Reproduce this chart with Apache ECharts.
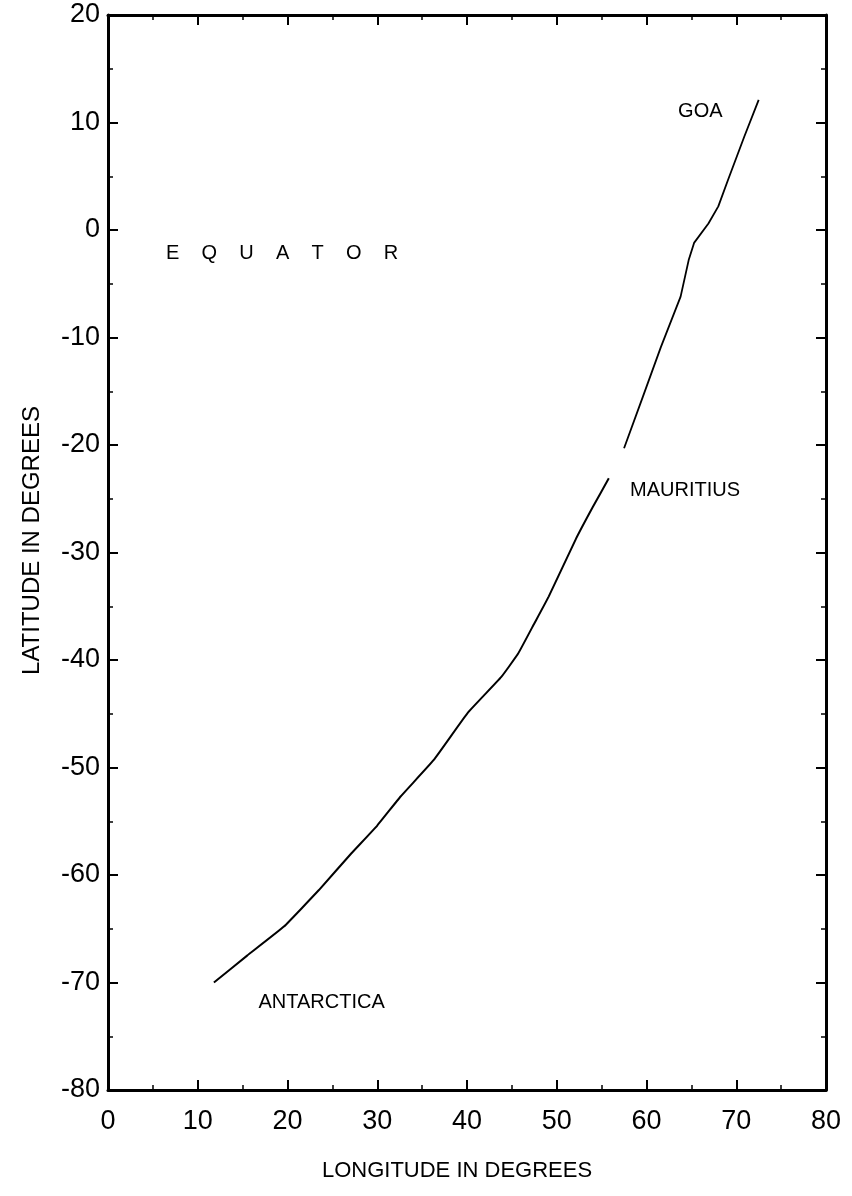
<!DOCTYPE html>
<html>
<head>
<meta charset="utf-8">
<script src="https://cdn.jsdelivr.net/npm/echarts@6/dist/echarts.min.js"></script>
<style>
html,body{margin:0;padding:0;background:#fff;}
#chart{width:852px;height:1196px;}
</style>
</head>
<body>
<div id="chart"></div>
<script>
// Track from Antarctica to Mauritius (longitude, latitude)
const southSegment = [
  [11.8, -70.0], [15.5, -67.5], [19.6, -64.8], [23.5, -61.4], [27.1, -58.0],
  [30.0, -55.4], [32.6, -52.7], [36.3, -49.3], [40.1, -44.9], [43.8, -41.6],
  [45.7, -39.4], [47.5, -36.6], [49.1, -34.1], [52.1, -28.8], [54.0, -25.8], [55.8, -23.1]
];
// Track from Mauritius to Goa
const northSegment = [
  [57.5, -20.3], [59.6, -15.5], [61.6, -10.9], [63.8, -6.2], [64.7, -2.8],
  [65.3, -1.2], [66.9, 0.6], [68.0, 2.2], [69.1, 4.7], [70.9, 8.7], [72.5, 12.1]
];
// Place labels: [longitude, latitude, text]
const placeLabels = [
  [66.0, 11.0, 'GOA'],
  [64.3, -24.2, 'MAURITIUS'],
  [23.8, -71.9, 'ANTARCTICA'],
  [19.4, -2.2, 'E    Q    U    A    T    O    R']
];
const xTicks = { min: 0, max: 80, interval: 10 };
const yTicks = { min: -80, max: 20, interval: 10 };

const chart = echarts.init(document.getElementById('chart'), null, { renderer: 'canvas' });
const font = 'Liberation Sans, Arial, sans-serif';
const axisLine = { show: true, onZero: false, lineStyle: { color: '#000', width: 3 } };
const tickStyle = { show: true, inside: true, length: 10, lineStyle: { color: '#000', width: 2 } };
const minorStyle = { show: true, splitNumber: 2, length: 5, lineStyle: { color: '#000', width: 1.5 } };

chart.setOption({
  backgroundColor: '#fff',
  animation: false,
  grid: { left: 108, right: 26, top: 15, bottom: 106, containLabel: false, outerBoundsMode: 'none' },
  xAxis: [{
    type: 'value', position: 'bottom', min: xTicks.min, max: xTicks.max, interval: xTicks.interval,
    axisLine, axisTick: tickStyle, minorTick: minorStyle, splitLine: { show: false },
    axisLabel: { color: '#000', fontSize: 27, fontFamily: font, margin: 18 },
    name: 'LONGITUDE IN DEGREES', nameLocation: 'middle', nameGap: 70,
    nameTextStyle: { color: '#000', fontSize: 22, fontFamily: font, padding: [0, 20, 0, 0] }
  }, {
    type: 'value', position: 'top', min: xTicks.min, max: xTicks.max, interval: xTicks.interval,
    axisLine, axisTick: tickStyle, minorTick: minorStyle, splitLine: { show: false },
    axisLabel: { show: false }
  }],
  yAxis: [{
    type: 'value', position: 'left', min: yTicks.min, max: yTicks.max, interval: yTicks.interval,
    axisLine, axisTick: tickStyle, minorTick: minorStyle, splitLine: { show: false },
    axisLabel: { color: '#000', fontSize: 27, fontFamily: font, margin: 8 },
    name: 'LATITUDE IN DEGREES', nameLocation: 'middle', nameGap: 64,
    nameTextStyle: { color: '#000', fontSize: 24, fontFamily: font, padding: [0, 0, 0, 24] }
  }, {
    type: 'value', position: 'right', min: yTicks.min, max: yTicks.max, interval: yTicks.interval,
    axisLine, axisTick: tickStyle, minorTick: minorStyle, splitLine: { show: false },
    axisLabel: { show: false }
  }],
  series: [{
    type: 'line', data: southSegment, showSymbol: false, smooth: 0.1,
    lineStyle: { color: '#000', width: 2 }, xAxisIndex: 0, yAxisIndex: 0
  }, {
    type: 'line', data: northSegment, showSymbol: false, smooth: false,
    lineStyle: { color: '#000', width: 1.8 }, xAxisIndex: 0, yAxisIndex: 0
  }, {
    type: 'scatter', symbolSize: 0, xAxisIndex: 0, yAxisIndex: 0,
    itemStyle: { opacity: 1 },
    data: placeLabels.map(d => ({ value: [d[0], d[1]], name: d[2] })),
    label: {
      show: true, position: 'inside', formatter: p => p.name, opacity: 1,
      color: '#000', fontSize: 20, fontFamily: font
    },
    silent: true
  }]
});
</script>
</body>
</html>
